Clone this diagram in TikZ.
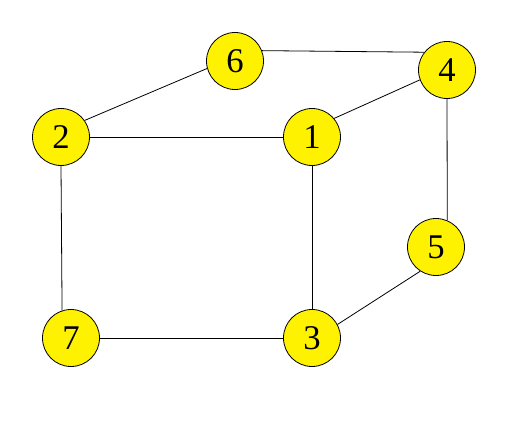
\documentclass[tikz,border=0pt]{standalone}
\usepackage{fontspec}
\setmainfont{Liberation Serif}
\usetikzlibrary{positioning}

\tikzset{
  vertex/.style={circle, draw=black, fill=yellow, line width=0.6pt,
                 minimum size=42.75pt, inner sep=0pt,
                 font=\fontsize{26}{26}\selectfont},
  edge/.style={line width=0.6pt}
}

\begin{document}
\begin{tikzpicture}[x=0.75pt, y=-0.75pt]
            \useasboundingbox (0,0) rectangle (512,442);
            % vertices
            \node[vertex] (n6) at (235, 61) {6};
            \node[vertex] (n4) at (447, 70) {4};
            \node[vertex] (n2) at (61, 137) {2};
            \node[vertex] (n1) at (312, 137) {1};
            \node[vertex] (n5) at (436, 247) {5};
            \node[vertex] (n7) at (71, 338) {7};
            \node[vertex] (n3) at (312, 338) {3};
            
            % edges
            \draw[edge] (n2.35) -- (n6.195);
            \draw[edge] (n6.21) -- (n4.142);
            \draw[edge] (n2) -- (n1);
            \draw[edge] (n1.40) -- (n4.200);
            \draw[edge] (n4.south) -- (n5.67);
            \draw[edge] (n5.237) -- (n3.28);
            \draw[edge] (n1) -- (n3);
            \draw[edge] (n2.south) -- (n7.108);
            \draw[edge] (n7) -- (n3);
        \end{tikzpicture}
\end{document}
